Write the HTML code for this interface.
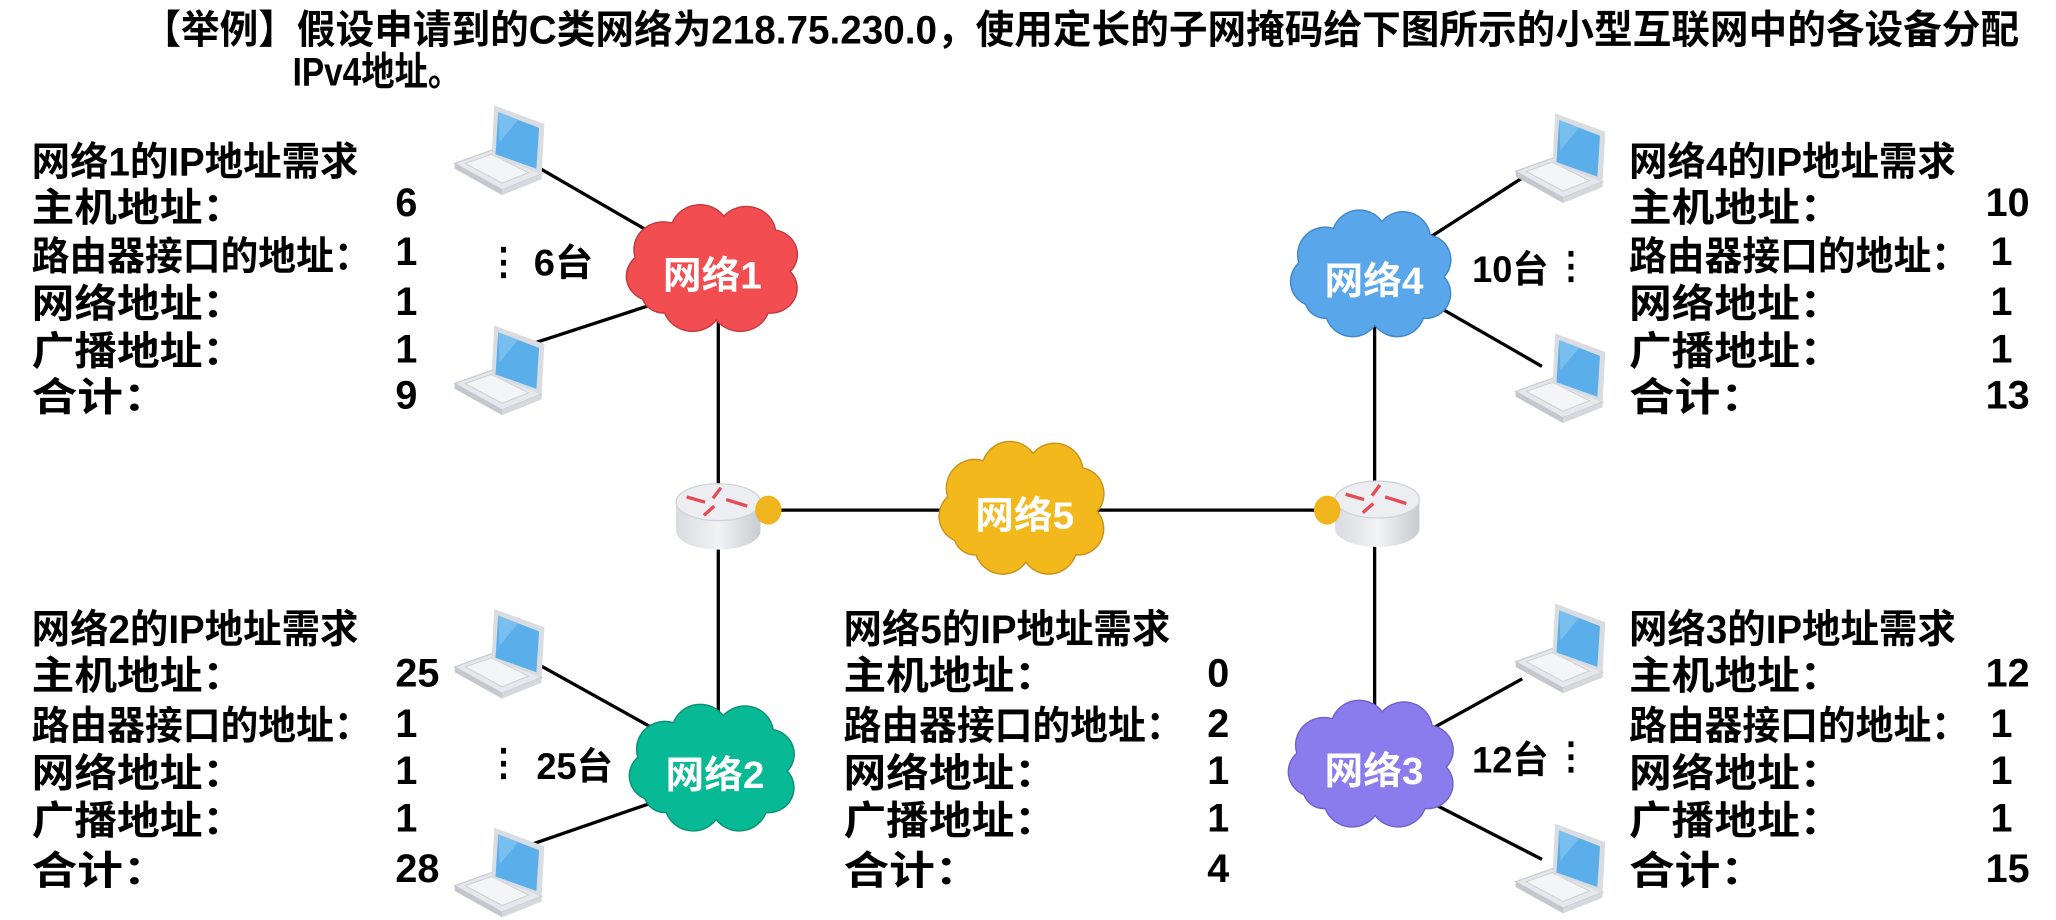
<!DOCTYPE html>
<html><head><meta charset="utf-8"><style>
html,body{margin:0;padding:0;background:#fff;}
svg{display:block;}
text{font-family:"Liberation Sans Narrow","Liberation Sans","Noto Sans CJK SC",sans-serif;font-weight:bold;fill:#000;}
</style></head><body>
<svg width="2056" height="920" viewBox="0 0 1560 698" preserveAspectRatio="none" xmlns="http://www.w3.org/2000/svg">
<defs>
<g id="lap">
<polygon points="2,44 30,34 68,52 38,64" fill="#e6e8ec" stroke="#c9ccd2" stroke-width="1"/>
<polygon points="2,44 38,64 38,68 2,48" fill="#c4c7cd"/>
<polygon points="38,64 68,52 68,56 38,68" fill="#d5d8dd"/>
<polygon points="10,44 30,37 58,51 38,59" fill="#f4f5f7" stroke="#cdd0d5" stroke-width="0.8"/>
<polygon points="32,0 70,14 68,52 30,38" fill="#d9dce1"/>
<polygon points="35,5 66,17 64,48 33,37" fill="#5aaeea"/>
<polygon points="35,5 50,11 36,28" fill="#8ccaf2" opacity="0.6"/>
</g>
<path id="cloud" d="M-45,20 a18,18 0 0,1 -5,-30 a20,20 0 0,1 25,-25 a20,20 0 0,1 35,-5 a20,20 0 0,1 35,10 a18,18 0 0,1 10,30 a18,18 0 0,1 -15,30 a20,20 0 0,1 -35,5 a20,20 0 0,1 -35,-5 a15,15 0 0,1 -15,-10 z"/>
<linearGradient id="rg" x1="0" x2="1"><stop offset="0" stop-color="#d9dbe0"/><stop offset="0.5" stop-color="#f2f3f5"/><stop offset="1" stop-color="#c8cbd1"/></linearGradient>
<g id="router">
<path d="M-32,0 L-32,22 A32,14 0 0,0 32,22 L32,0 Z" fill="url(#rg)"/>
<ellipse cx="0" cy="0" rx="32" ry="14" fill="#eceef2" stroke="#d0d3d8" stroke-width="1"/>
<g stroke="#e84a55" stroke-width="2.5" fill="none">
<line x1="-24" y1="-4" x2="-10" y2="0"/><line x1="6" y1="-2" x2="22" y2="3"/>
<line x1="-4" y1="-3" x2="2" y2="-11"/><line x1="-3" y1="3" x2="-11" y2="10"/>
</g>
</g>
</defs>

<text x="108" y="33" font-size="30" textLength="1424" lengthAdjust="spacingAndGlyphs">【举例】假设申请到的C类网络为218.75.230.0，使用定长的子网掩码给下图所示的小型互联网中的各设备分配</text>
<text x="222" y="65" font-size="30" textLength="128" lengthAdjust="spacingAndGlyphs">IPv4地址。</text>

<g stroke="#000" stroke-width="2.5">
<line x1="410" y1="128" x2="500" y2="180"/>
<line x1="400" y1="262" x2="492" y2="232"/>
<line x1="545" y1="240" x2="545" y2="378"/>
<line x1="545" y1="400" x2="545" y2="555"/>
<line x1="583" y1="387" x2="1005" y2="387"/>
<line x1="1043" y1="245" x2="1043" y2="378"/>
<line x1="1043" y1="400" x2="1043" y2="550"/>
<line x1="410" y1="505" x2="500" y2="555"/>
<line x1="405" y1="640" x2="492" y2="610"/>
<line x1="1155" y1="135" x2="1085" y2="180"/>
<line x1="1090" y1="232" x2="1170" y2="278"/>
<line x1="1155" y1="515" x2="1088" y2="552"/>
<line x1="1088" y1="610" x2="1170" y2="652"/>
</g>

<use href="#lap" x="343" y="80"/>
<use href="#lap" x="343" y="247"/>
<use href="#lap" x="343" y="462"/>
<use href="#lap" x="343" y="628"/>
<use href="#lap" x="1148" y="86"/>
<use href="#lap" x="1148" y="253"/>
<use href="#lap" x="1148" y="458"/>
<use href="#lap" x="1148" y="625"/>

<use href="#router" x="545" y="381"/>
<use href="#router" x="1045" y="379"/>
<ellipse cx="583" cy="387" rx="10" ry="11" fill="#f0b41c"/>
<ellipse cx="1007" cy="387" rx="10" ry="11" fill="#f0b41c"/>

<use href="#cloud" transform="translate(538,206) scale(1.12,1.05)" fill="#f24d51" stroke="#c23a3e" stroke-width="1"/>
<use href="#cloud" transform="translate(1038,210) scale(1.05,1.05)" fill="#5aa6ea" stroke="#3f86c8" stroke-width="1"/>
<use href="#cloud" transform="translate(773,388) scale(1.08,1.1)" fill="#f2b81c" stroke="#c8921a" stroke-width="1"/>
<use href="#cloud" transform="translate(538,585) scale(1.08,1.05)" fill="#08b995" stroke="#0b8f74" stroke-width="1"/>
<use href="#cloud" transform="translate(1038,582) scale(1.08,1.05)" fill="#8b7ced" stroke="#6f62c9" stroke-width="1"/>
<g font-size="29">
<text x="503" y="219" style="fill:#fff" textLength="75" lengthAdjust="spacingAndGlyphs">网络1</text>
<text x="1005" y="223" style="fill:#fff" textLength="75" lengthAdjust="spacingAndGlyphs">网络4</text>
<text x="740" y="401" style="fill:#fff" textLength="75" lengthAdjust="spacingAndGlyphs">网络5</text>
<text x="505" y="598" style="fill:#fff" textLength="75" lengthAdjust="spacingAndGlyphs">网络2</text>
<text x="1005" y="595" style="fill:#fff" textLength="75" lengthAdjust="spacingAndGlyphs">网络3</text>
</g>

<g font-size="28">
<text x="368" y="208">⋮</text><text x="405" y="209" textLength="45" lengthAdjust="spacingAndGlyphs">6台</text>
<text x="368" y="588">⋮</text><text x="407" y="591" textLength="58" lengthAdjust="spacingAndGlyphs">25台</text>
<text x="1117" y="214" textLength="58" lengthAdjust="spacingAndGlyphs">10台</text><text x="1178" y="211">⋮</text>
<text x="1117" y="586" textLength="58" lengthAdjust="spacingAndGlyphs">12台</text><text x="1178" y="583">⋮</text>
</g>

<g font-size="30">
<text x="24" y="133" textLength="248" lengthAdjust="spacingAndGlyphs">网络1的IP地址需求</text>
<text x="24" y="168" textLength="162" lengthAdjust="spacingAndGlyphs">主机地址：</text>
<text x="24" y="205" textLength="258" lengthAdjust="spacingAndGlyphs">路由器接口的地址：</text>
<text x="24" y="241" textLength="162" lengthAdjust="spacingAndGlyphs">网络地址：</text>
<text x="24" y="277" textLength="162" lengthAdjust="spacingAndGlyphs">广播地址：</text>
<text x="24" y="312" textLength="104" lengthAdjust="spacingAndGlyphs">合计：</text>
<text x="300" y="164">6</text><text x="300" y="201">1</text><text x="300" y="239">1</text><text x="300" y="275">1</text><text x="300" y="310">9</text>
<text x="24" y="488" textLength="248" lengthAdjust="spacingAndGlyphs">网络2的IP地址需求</text>
<text x="24" y="523" textLength="162" lengthAdjust="spacingAndGlyphs">主机地址：</text>
<text x="24" y="561" textLength="258" lengthAdjust="spacingAndGlyphs">路由器接口的地址：</text>
<text x="24" y="597" textLength="162" lengthAdjust="spacingAndGlyphs">网络地址：</text>
<text x="24" y="633" textLength="162" lengthAdjust="spacingAndGlyphs">广播地址：</text>
<text x="24" y="671" textLength="104" lengthAdjust="spacingAndGlyphs">合计：</text>
<text x="300" y="521">25</text><text x="300" y="559">1</text><text x="300" y="595">1</text><text x="300" y="631">1</text><text x="300" y="669">28</text>
<text x="640" y="488" textLength="248" lengthAdjust="spacingAndGlyphs">网络5的IP地址需求</text>
<text x="640" y="523" textLength="162" lengthAdjust="spacingAndGlyphs">主机地址：</text>
<text x="640" y="561" textLength="258" lengthAdjust="spacingAndGlyphs">路由器接口的地址：</text>
<text x="640" y="597" textLength="162" lengthAdjust="spacingAndGlyphs">网络地址：</text>
<text x="640" y="633" textLength="162" lengthAdjust="spacingAndGlyphs">广播地址：</text>
<text x="640" y="671" textLength="104" lengthAdjust="spacingAndGlyphs">合计：</text>
<text x="916" y="521">0</text><text x="916" y="559">2</text><text x="916" y="595">1</text><text x="916" y="631">1</text><text x="916" y="669">4</text>
<text x="1236" y="133" textLength="248" lengthAdjust="spacingAndGlyphs">网络4的IP地址需求</text>
<text x="1236" y="168" textLength="162" lengthAdjust="spacingAndGlyphs">主机地址：</text>
<text x="1236" y="205" textLength="258" lengthAdjust="spacingAndGlyphs">路由器接口的地址：</text>
<text x="1236" y="241" textLength="162" lengthAdjust="spacingAndGlyphs">网络地址：</text>
<text x="1236" y="277" textLength="162" lengthAdjust="spacingAndGlyphs">广播地址：</text>
<text x="1236" y="312" textLength="104" lengthAdjust="spacingAndGlyphs">合计：</text>
<text x="1540" y="164" text-anchor="end">10</text><text x="1527" y="201" text-anchor="end">1</text><text x="1527" y="239" text-anchor="end">1</text><text x="1527" y="275" text-anchor="end">1</text><text x="1540" y="310" text-anchor="end">13</text>
<text x="1236" y="488" textLength="248" lengthAdjust="spacingAndGlyphs">网络3的IP地址需求</text>
<text x="1236" y="523" textLength="162" lengthAdjust="spacingAndGlyphs">主机地址：</text>
<text x="1236" y="561" textLength="258" lengthAdjust="spacingAndGlyphs">路由器接口的地址：</text>
<text x="1236" y="597" textLength="162" lengthAdjust="spacingAndGlyphs">网络地址：</text>
<text x="1236" y="633" textLength="162" lengthAdjust="spacingAndGlyphs">广播地址：</text>
<text x="1236" y="671" textLength="104" lengthAdjust="spacingAndGlyphs">合计：</text>
<text x="1540" y="521" text-anchor="end">12</text><text x="1527" y="559" text-anchor="end">1</text><text x="1527" y="595" text-anchor="end">1</text><text x="1527" y="631" text-anchor="end">1</text><text x="1540" y="669" text-anchor="end">15</text>
</g>
</svg>
</body></html>
